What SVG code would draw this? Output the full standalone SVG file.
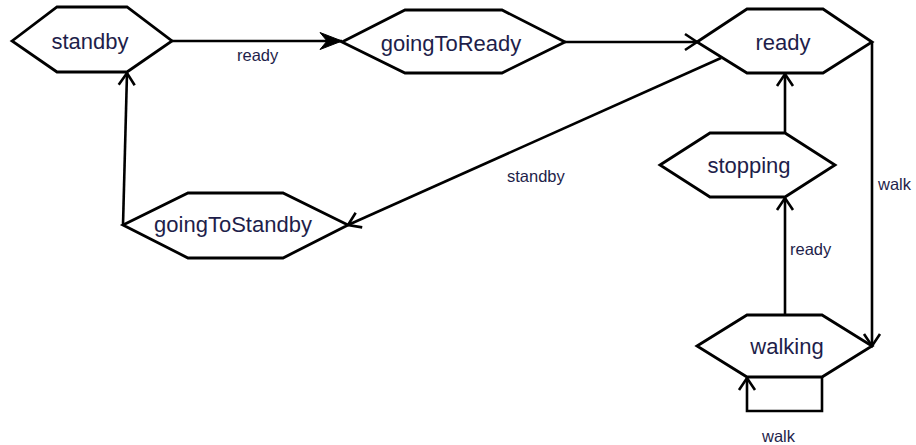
<svg xmlns="http://www.w3.org/2000/svg" width="916" height="445" viewBox="0 0 916 445">
  <style>
    .state { fill: #ffffff; stroke: #000000; stroke-width: 2.8; stroke-linejoin: miter; }
    .state-label { font-family: "Liberation Sans", Arial, sans-serif; font-size: 22px; fill: #1e1e4a; text-anchor: middle; }
    .edge { fill: none; stroke: #000000; stroke-width: 2.6; }
    .edge-label { font-family: "Liberation Sans", Arial, sans-serif; font-size: 16.5px; fill: #1e1e4a; }
  </style>
  <defs>
    <marker id="open" markerUnits="userSpaceOnUse" markerWidth="30" markerHeight="30" viewBox="-15 -15 30 30" refX="0" refY="0" orient="auto">
      <path d="M-12,-8 L0,0 L-12,8" fill="none" stroke="#000" stroke-width="2.6"/>
    </marker>
    <marker id="solid" markerUnits="userSpaceOnUse" markerWidth="30" markerHeight="30" viewBox="-25 -15 30 30" refX="0" refY="0" orient="auto">
      <path d="M0,0 L-22,-8.5 L-15,0 L-22,8.5 Z" fill="#000" stroke="#000" stroke-width="1"/>
    </marker>
  </defs>

  <!-- transitions -->
  <g id="connectors">
    <path class="edge" d="M172,41 H342" marker-end="url(#solid)"/>
    <path class="edge" d="M565,42 H697" marker-end="url(#open)"/>
    <path class="edge" d="M721,58 L348,225" marker-end="url(#open)"/>
    <path class="edge" d="M123,225 L127,73" marker-end="url(#open)"/>
    <path class="edge" d="M785,133 V74" marker-end="url(#open)"/>
    <path class="edge" d="M785,315 V198" marker-end="url(#open)"/>
    <path class="edge" d="M872,42 V346" marker-end="url(#open)"/>
    <path class="edge" d="M822,377 V411 H747 V378" marker-end="url(#open)"/>
    <text class="edge-label" x="237" y="61">ready</text>
    <text class="edge-label" x="507" y="182">standby</text>
    <text class="edge-label" x="878" y="190">walk</text>
    <text class="edge-label" x="790" y="255">ready</text>
    <text class="edge-label" x="762" y="442">walk</text>
  </g>

  <g id="standby">
    <polygon class="state" points="12,41 57,7 127,7 172,41 127,72 57,72"/>
    <text class="state-label" x="90" y="49">standby</text>
  </g>

  <g id="goingToReady">
    <polygon class="state" points="342,42 405,10 502,10 565,42 502,73 405,73"/>
    <text class="state-label" x="451" y="51">goingToReady</text>
  </g>

  <g id="ready">
    <polygon class="state" points="697,42 747,9 823,9 872,42 823,73 747,73"/>
    <text class="state-label" x="783" y="50">ready</text>
  </g>

  <g id="stopping">
    <polygon class="state" points="660,165 710,133 785,133 835,165 785,197 710,197"/>
    <text class="state-label" x="749" y="173">stopping</text>
  </g>

  <g id="walking">
    <polygon class="state" points="697,346 747,315 822,315 872,346 822,377 747,377"/>
    <text class="state-label" x="787" y="354">walking</text>
  </g>

  <g id="goingToStandby">
    <polygon class="state" points="123,225 188,193 283,193 348,225 283,258 188,258"/>
    <text class="state-label" x="233" y="232">goingToStandby</text>
  </g>
</svg>
